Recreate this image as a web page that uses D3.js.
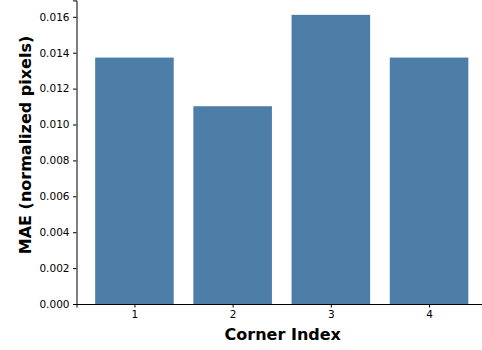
<!DOCTYPE html>
<html><head><meta charset="utf-8">
<script src="https://cdn.jsdelivr.net/npm/d3@7"></script>
<style>body{margin:0;background:#fff}svg{display:block}text{font-family:"DejaVu Sans",sans-serif}</style>
</head><body>
<svg id="c" width="482" height="350"></svg>
<script>
const categories = ["1", "2", "3", "4"];
const values = [0.01373, 0.01102, 0.01611, 0.01373];
const yTicks = [0, 0.002, 0.004, 0.006, 0.008, 0.010, 0.012, 0.014, 0.016];

(function () {
const svg = d3.select("#c");
const mLeft = 76.5, mRight = 487, mTop = 0.4, mBottom = 304;
const x = d3.scaleLinear().domain([0.41, 4.59]).range([mLeft, mRight]);
const y = d3.scaleLinear().domain([0, 0.016915]).range([mBottom, mTop]);
const color = "#4c7ea7";

svg.append("g").selectAll("rect").data(values).join("rect")
  .attr("x", (d,i) => x(i + 1 - 0.4))
  .attr("width", (d,i) => x(i + 1.4) - x(i + 0.6))
  .attr("y", d => y(d))
  .attr("height", d => y(0) - y(d))
  .attr("fill", color);

const xAxis = d3.axisBottom(x).tickValues([1,2,3,4]).tickFormat((d,i) => categories[i]).tickSizeOuter(0).tickSize(3.5).tickPadding(3.5);
const gx = svg.append("g").attr("transform", `translate(0,${mBottom})`).call(xAxis);
gx.select(".domain").attr("stroke", "#000").attr("stroke-width", 1);
gx.selectAll("text").attr("font-size", 10.5).attr("fill", "#000").attr("font-family", "DejaVu Sans");

const yAxis = d3.axisLeft(y).tickValues(yTicks).tickFormat(d3.format(".3f")).tickSizeOuter(0).tickSize(3.5).tickPadding(3.5);
const gy = svg.append("g").attr("transform", `translate(${mLeft},0)`).call(yAxis);
gy.select(".domain").attr("stroke", "#000").attr("stroke-width", 1);
gy.selectAll("text").attr("font-size", 10.5).attr("fill", "#000").attr("font-family", "DejaVu Sans");

svg.append("text").attr("x", (mLeft + mRight) / 2 + 1).attr("y", 340)
  .attr("text-anchor", "middle").attr("font-size", 16).attr("font-weight", "bold")
  .text("Corner Index");
svg.append("text").attr("transform", `translate(31,145) rotate(-90)`)
  .attr("text-anchor", "middle").attr("font-size", 16).attr("font-weight", "bold")
  .text("MAE (normalized pixels)");
})();
</script>
</body></html>
